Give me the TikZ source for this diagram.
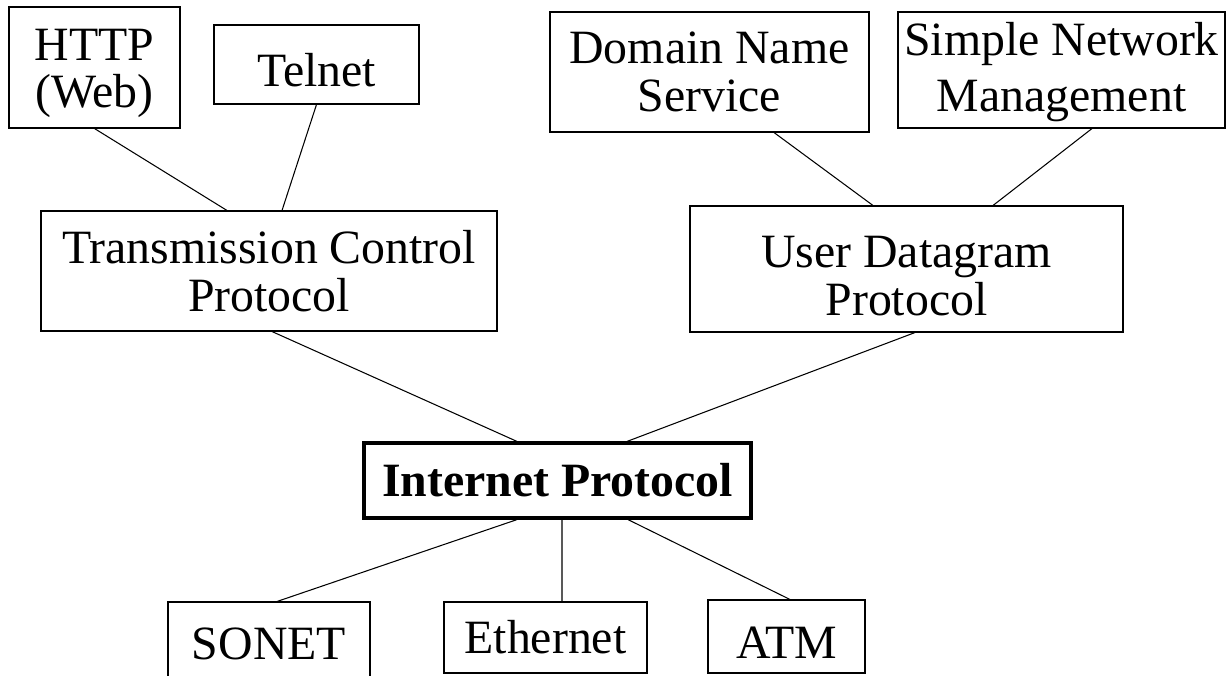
\documentclass[tikz,border=0pt]{standalone}
\usepackage{fontspec}
\setmainfont{Liberation Serif}

\tikzset{
  proto/.style={rectangle, draw, line width=0.6pt, align=center, inner sep=0pt,
    font=\fontsize{27.2}{27}\selectfont},
  lower/.style={text height=#1},
  link/.style={line width=0.6pt}
}

\begin{document}
\begin{tikzpicture}

\useasboundingbox (0, 0) rectangle (24.6, -13.5);

% applications
\node[proto, lower=51.8pt, minimum width=3.42cm, minimum height=2.42cm] (http) at (1.89, -1.35) {HTTP\\(Web)};
\node[proto, lower=25.4pt, minimum width=4.10cm, minimum height=1.58cm] (telnet) at (6.33, -1.29) {Telnet};
\node[proto, minimum width=6.38cm, minimum height=2.40cm] (dns) at (14.19, -1.44) {Domain Name\\Service};
\node[proto, font=\fontsize{27.2}{32}\selectfont, lower=53.5pt, minimum width=6.54cm, minimum height=2.32cm] (snm) at (21.23, -1.40) {Simple Network\\Management};

% transport
\node[proto, minimum width=9.12cm, minimum height=2.40cm] (tcp) at (5.38, -5.42) {Transmission Control\\Protocol};
\node[proto, lower=53pt, minimum width=8.66cm, minimum height=2.52cm] (udp) at (18.13, -5.38) {User Datagram\\Protocol};

\draw[link] (http.south) -- ([xshift=-0.84cm]tcp.north);
\draw[link] (telnet.south) -- ([xshift=+0.26cm]tcp.north);
\draw[link] ([xshift=+1.29cm]dns.south) -- ([xshift=-0.67cm]udp.north);
\draw[link] ([xshift=+0.61cm]snm.south) -- ([xshift=+1.73cm]udp.north);

% network
\node[proto, line width=1.8pt, minimum width=7.74cm, minimum height=1.50cm] (ip) at (11.15, -9.61) {\textbf{Internet Protocol}};

\draw[link] ([xshift=+0.06cm]tcp.south) -- ([xshift=-0.81cm]ip.north);
\draw[link] ([xshift=+0.17cm]udp.south) -- ([xshift=+1.39cm]ip.north);

% links
\node[proto, minimum width=4.04cm, minimum height=1.66cm] (sonet) at (5.38, -12.87) {SONET};
\node[proto, minimum width=4.06cm, minimum height=1.42cm] (ether) at (10.91, -12.75) {Ethernet};
\node[proto, lower=24.8pt, minimum width=3.14cm, minimum height=1.46cm] (atm) at (15.73, -12.73) {ATM};

\draw[link] ([xshift=-0.81cm]ip.south) -- ([xshift=+0.16cm]sonet.north);
\draw[link] ([xshift=+0.09cm]ip.south) -- ([xshift=+0.33cm]ether.north);
\draw[link] ([xshift=+1.41cm]ip.south) -- ([xshift=+0.07cm]atm.north);

\end{tikzpicture}
\end{document}
